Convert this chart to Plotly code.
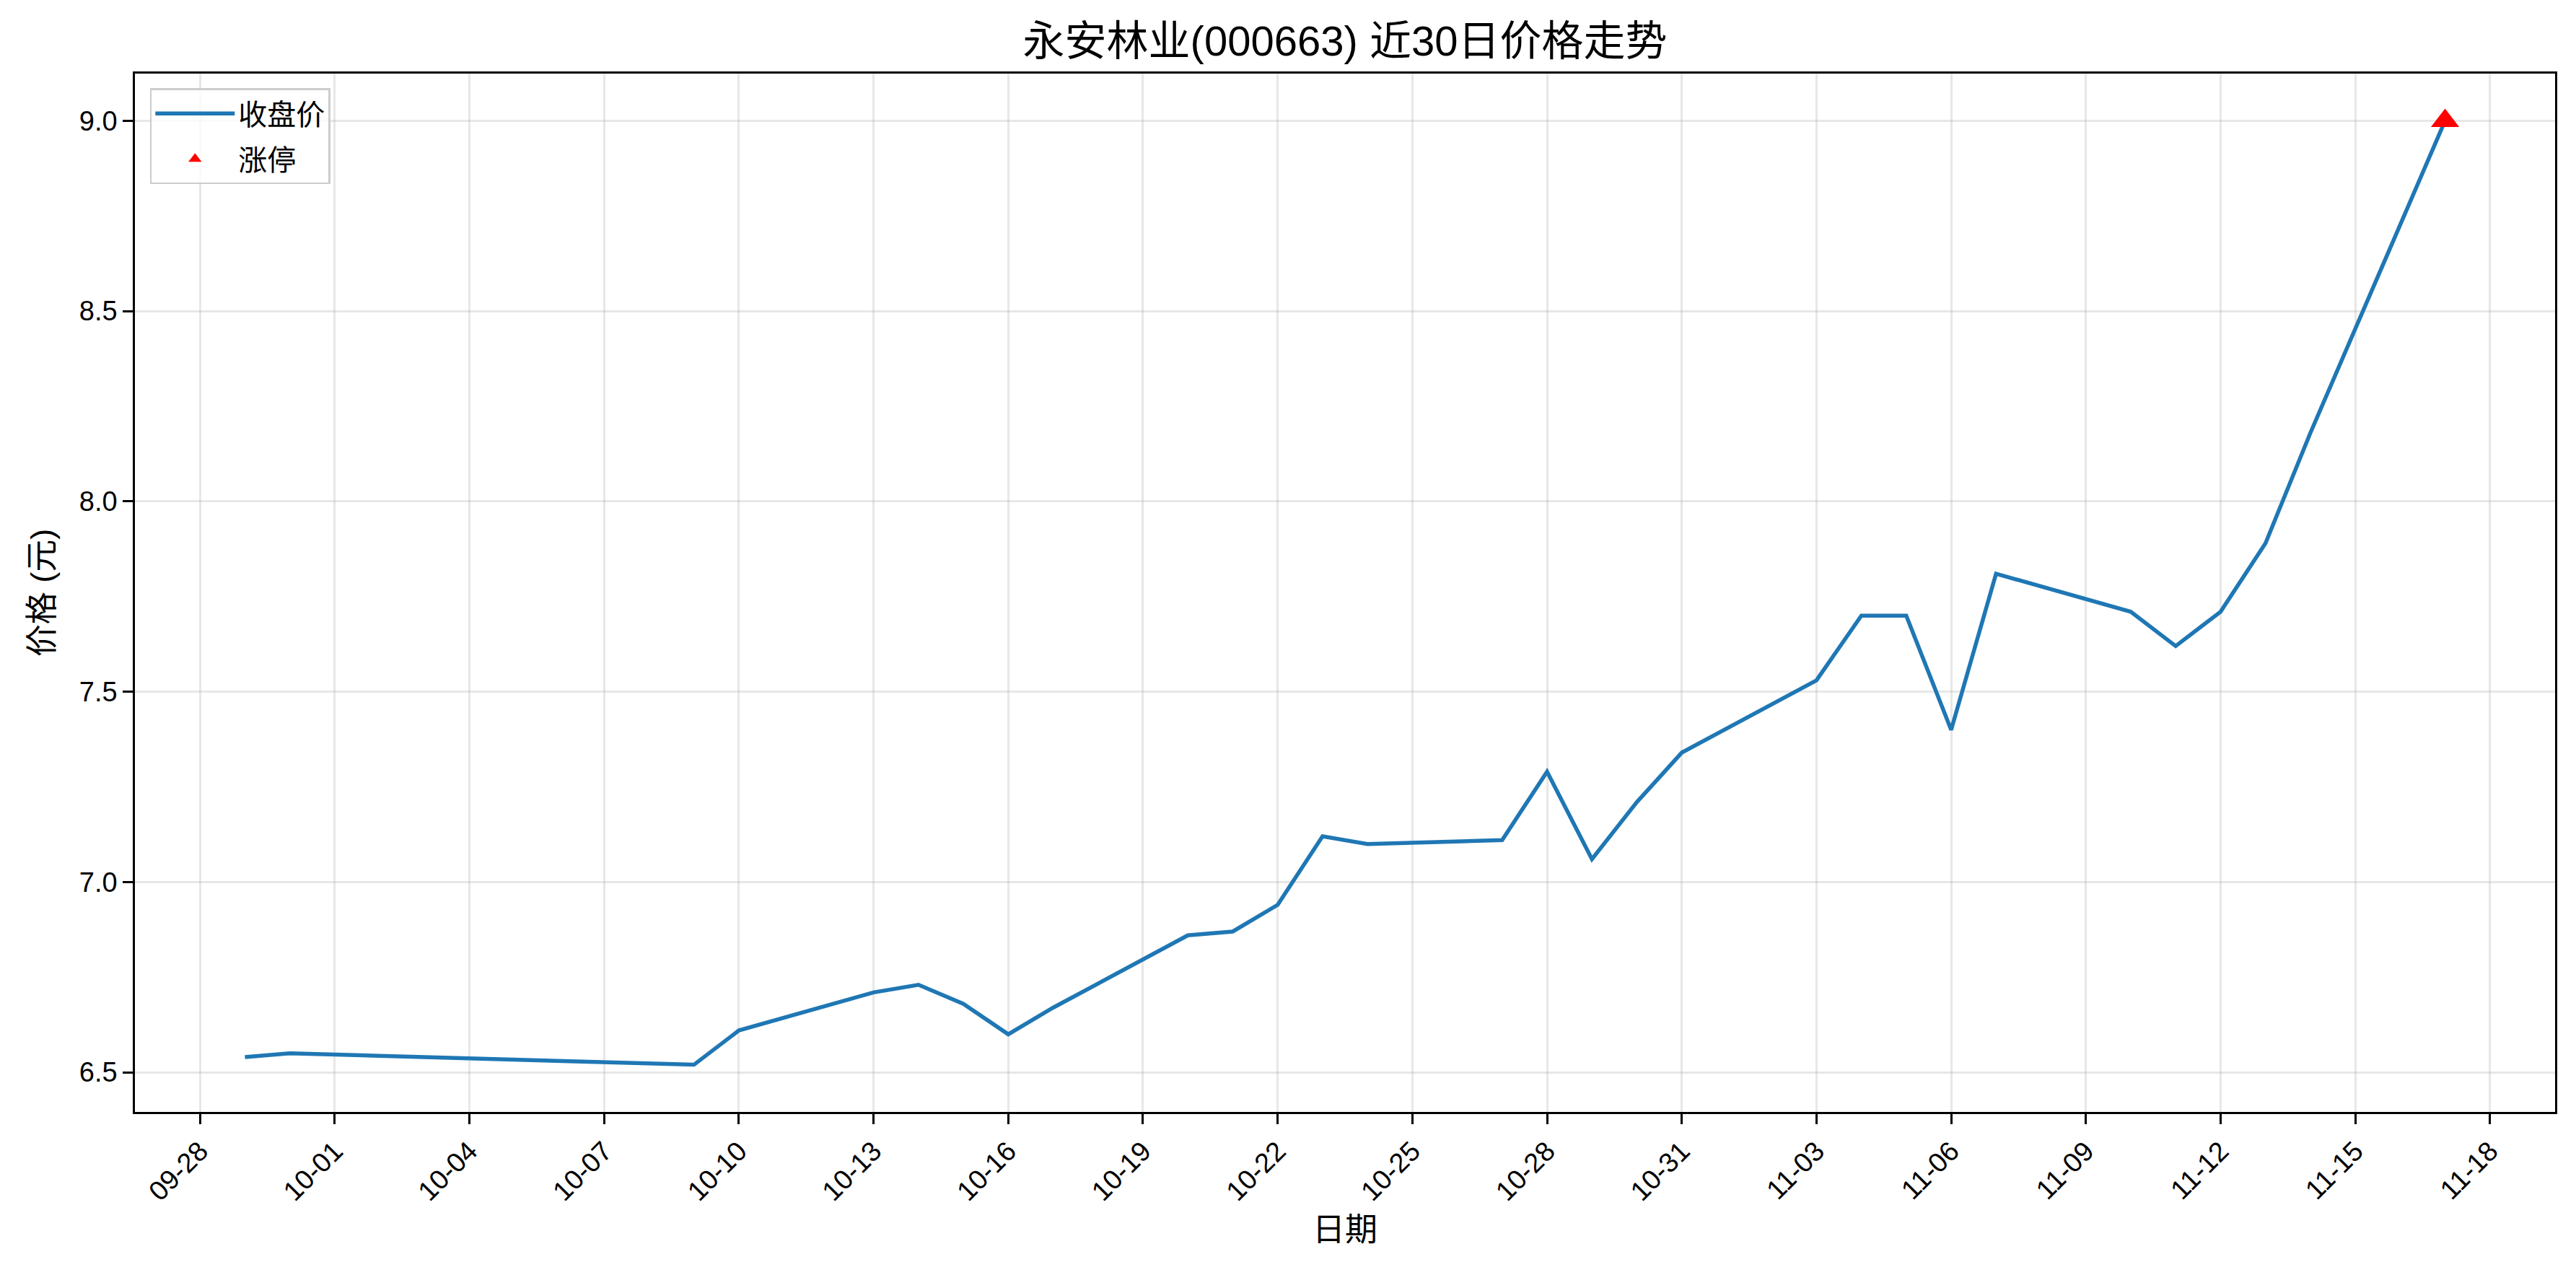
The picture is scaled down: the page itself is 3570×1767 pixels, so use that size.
import plotly.graph_objects as go

# ---- data ----
dates = ["2025-09-29", "2025-09-30", "2025-10-09", "2025-10-10", "2025-10-13",
         "2025-10-14", "2025-10-15", "2025-10-16", "2025-10-17", "2025-10-20",
         "2025-10-21", "2025-10-22", "2025-10-23", "2025-10-24", "2025-10-27",
         "2025-10-28", "2025-10-29", "2025-10-30", "2025-10-31", "2025-11-03",
         "2025-11-04", "2025-11-05", "2025-11-06", "2025-11-07", "2025-11-10",
         "2025-11-11", "2025-11-12", "2025-11-13", "2025-11-14", "2025-11-17"]
close = [6.54, 6.55, 6.52, 6.61, 6.71,
         6.73, 6.68, 6.60, 6.67, 6.86,
         6.87, 6.94, 7.12, 7.10, 7.11,
         7.29, 7.06, 7.21, 7.34, 7.53,
         7.70, 7.70, 7.40, 7.81, 7.71,
         7.62, 7.71, 7.89, 8.18, 9.00]
limit_dates = ["2025-11-17"]
limit_close = [9.00]

title_text = "永安林业(000663) 近30日价格走势"
x_title = "日期"
y_title = "价格 (元)"
series_names = ["收盘价", "涨停"]

# ---- figure ----
W, H = 3570, 1767
L, R, T, B = 187, 29, 102, 226

FONT = "Liberation Sans, Arial, Noto Sans CJK SC, sans-serif"

fig = go.Figure()
fig.add_trace(go.Scatter(
    x=dates, y=close, mode="lines", name=series_names[0],
    line=dict(color="#1f77b4", width=5.5), legendgroup="a",
))
fig.add_trace(go.Scatter(
    x=limit_dates, y=limit_close, mode="markers", name=series_names[1],
    marker=dict(symbol="triangle-up", color="red", size=34, line=dict(width=0)),
    legendgroup="b",
))

grid_col = "rgba(176,176,176,0.3)"
axis_common = dict(
    showline=True, linecolor="black", linewidth=2.5, mirror=True,
    ticks="outside", ticklen=14, tickwidth=2.5, tickcolor="black",
    showgrid=True, gridcolor=grid_col, gridwidth=3,
    zeroline=False,
    tickfont=dict(family=FONT, size=38, color="black"),
)

fig.update_layout(
    width=W, height=H,
    margin=dict(l=L, r=R, t=T, b=B),
    paper_bgcolor="white", plot_bgcolor="white",
    font=dict(family=FONT, color="black"),
    title=dict(text=title_text, x=0.5, xanchor="center", xref="paper",
               y=1 - 57 / H, yanchor="middle", yref="container",
               font=dict(family=FONT, size=58, color="black")),
    xaxis=dict(
        type="date",
        range=["2025-09-26 13:12", "2025-11-19 10:48"],
        tick0="2025-09-28", dtick=3 * 86400000, tickformat="%m-%d",
        tickangle=-45,
        title=dict(text=x_title, font=dict(family=FONT, size=45), standoff=18),
        automargin=False,
        **axis_common,
    ),
    yaxis=dict(
        range=[6.396, 9.124],
        dtick=0.5, tick0=6.5, tickformat=".1f",
        title=dict(text=y_title, font=dict(family=FONT, size=45), standoff=22),
        automargin=False,
        **axis_common,
    ),
    legend=dict(
        x=0.0062, y=0.986, xanchor="left", yanchor="top",
        bgcolor="rgba(255,255,255,0.8)", bordercolor="#cccccc", borderwidth=2.5,
        font=dict(family=FONT, size=40, color="black"),
        tracegroupgap=8, itemwidth=110,
    ),
    showlegend=True,
)

fig.write_html("out.html", config={"displayModeBar": False},
               post_script="document.body.style.margin='0';")
